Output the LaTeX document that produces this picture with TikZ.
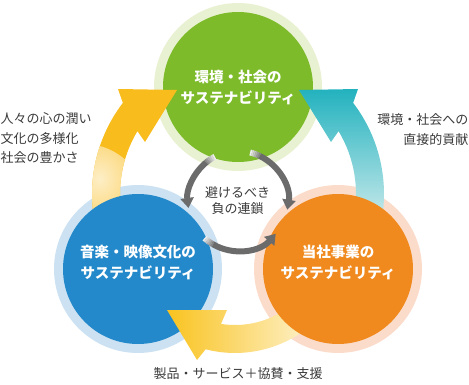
\documentclass[tikz,border=0pt]{standalone}
\usepackage{fontspec}
\newfontfamily\jp{Noto Sans CJK JP}
\usetikzlibrary{arrows.meta,calc}
\definecolor{greenC}{HTML}{7DBB2A}
\definecolor{greenRing}{HTML}{E9F1D3}
\definecolor{blueC}{HTML}{2389CA}
\definecolor{blueRing}{HTML}{CCE2F3}
\definecolor{orangeC}{HTML}{F08A1E}
\definecolor{orangeRing}{HTML}{FBDCCB}
\definecolor{yel}{HTML}{F9BC1D}
\definecolor{yelB}{HTML}{F9C31F}
\definecolor{tealD}{HTML}{22B2BE}
\definecolor{tealM}{HTML}{5EC5C9}
\definecolor{tealL}{HTML}{CFECED}
\definecolor{grayC}{HTML}{6B6B6B}
\definecolor{textC}{HTML}{3A3A3A}
\tikzset{
  disc/.style={circle, minimum size=150pt, inner sep=0pt, draw=none},
  circtext/.style={text=white, align=center, inner sep=0pt,
    font=\jp\bfseries\fontsize{14.5}{21}\selectfont},
  lbl/.style={text=textC, inner sep=0pt, font=\jp\fontsize{13}{19.5}\selectfont},
  grayarc/.style={line width=6pt},
}
\newcommand\fadearc[3]{%
  \foreach \k in {0,...,5}{%
    \pgfmathsetmacro\fA{#1+#3*2*\k}%
    \pgfmathsetmacro\fB{#1+#3*2*(\k+1)}%
    \pgfmathtruncatemacro\fC{12+14*\k}%
    \draw[grayarc, grayC!\fC!white] ($(cG)+(\fA:50)$) arc[start angle=\fA, end angle=\fB, radius=50];
  }%
  \pgfmathsetmacro\fA{#1+#3*12}%
  \draw[grayarc, grayC, -{Triangle[width=13pt,length=10pt]}] ($(cG)+(\fA:50)$) arc[start angle=\fA, end angle=#2, radius=50];
}
\begin{document}
\begin{tikzpicture}[x=1pt,y=-1pt]
\useasboundingbox (0,0) rectangle (469,385);
\coordinate (gc) at (238,87);
\coordinate (bc) at (138,269);
\coordinate (oc) at (338,269);
\coordinate (cL) at (242,194);
\coordinate (cT) at (234,194);
\coordinate (cB) at (235,235);
\coordinate (cG) at (238,201);
% rings
\fill[greenRing] (gc) circle[radius=84];
\fill[blueRing] (bc) circle[radius=84];
\fill[orangeRing] (oc) circle[radius=84];
% green circle
\node[disc, fill=greenC] (env) at (gc) {};
\node[circtext] (envt) at (238,87.5) {環境・社会の\\サステナビリティ};
% left yellow arrow
\fill[yel, path picture={\shade[inner color=yel!25!white, outer color=yel] (84,206) circle[radius=62];}]
  ($(cL)+(168:150)$) arc[start angle=168, end angle=217.4, radius=150]
  -- (118,89) -- (177,90) -- (145,142)
  -- ($(cL)+(211:122)$) arc[start angle=211, end angle=168, radius=122] -- cycle;
% teal arrow
\shade[top color=tealD, middle color=tealM, bottom color=tealL]
  ($(cT)+(12:150)$) arc[start angle=12, end angle=-37.4, radius=150]
  -- (358,89) -- (299,90) -- (331,142)
  -- ($(cT)+(-31:122)$) arc[start angle=-31, end angle=12, radius=122] -- cycle;
% blue circle
\node[disc, fill=blueC] (music) at (bc) {};
\node[circtext] (musict) at (138,262.5) {音楽・映像文化の\\サステナビリティ};
% bottom yellow arrow
\shade[left color=yelB, middle color=yelB, right color=yelB!10!white]
  ($(cB)+(30:118)$) arc[start angle=30, end angle=104.4, radius=118]
  -- (197,360) -- (167,310) -- (227,310)
  -- ($(cB)+(98.95:90)$) arc[start angle=98.95, end angle=30, radius=90] -- cycle;
% orange circle
\node[disc, fill=orangeC] (biz) at (oc) {};
\node[circtext] (bizt) at (338,262.5) {当社事業の\\サステナビリティ};
% gray cycle arrows
\fadearc{242.5}{172}{-1}
\fadearc{-76}{10}{1}
\fadearc{132}{41}{-1}
% labels
\node[lbl, align=center, font=\jp\fontsize{13}{15.5}\selectfont] (chain) at (237.5,200.5) {避けるべき\\負の連鎖};
\node[lbl, align=left, anchor=west] (lt) at (0.5,138.5) {人々の心の潤い\\文化の多様化\\社会の豊かさ};
\node[lbl, align=right, anchor=east] (rt) at (468.5,129.75) {環境・社会への\\直接的貢献};
\node[lbl] (bt) at (238,374) {製品・サービス＋協賛・支援};
\end{tikzpicture}
\end{document}
